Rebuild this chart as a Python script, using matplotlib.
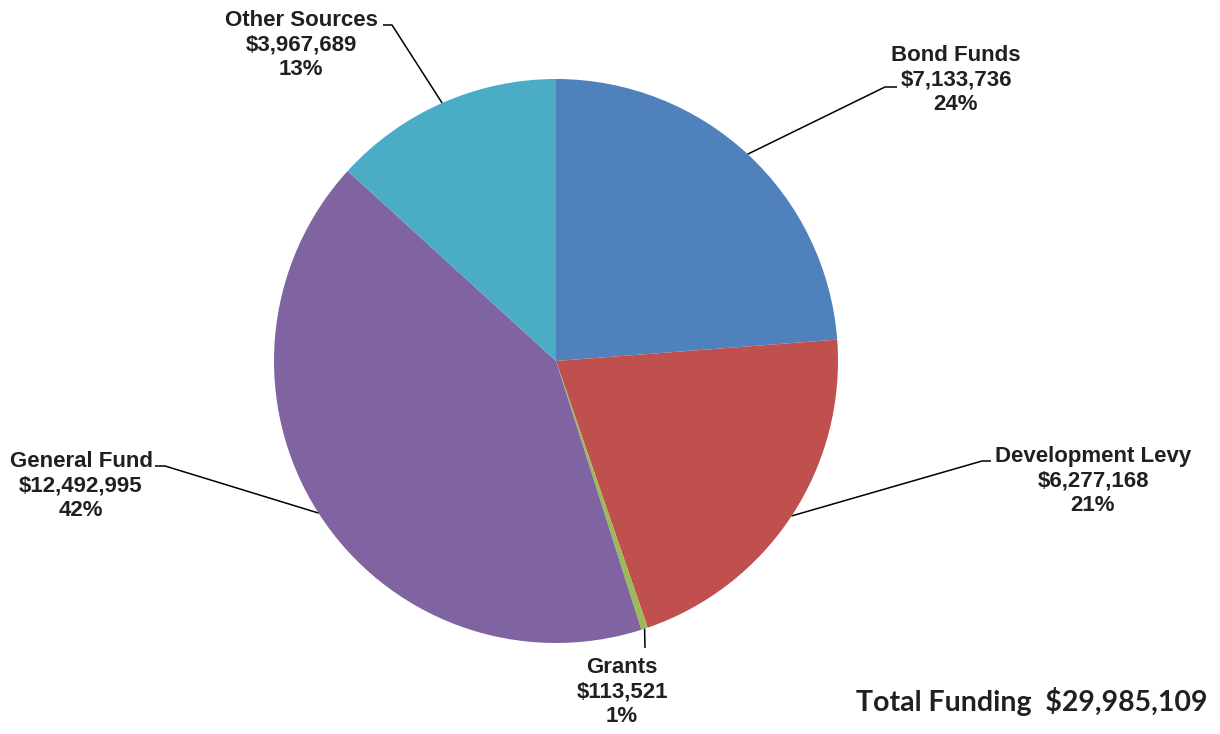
import numpy as np
import matplotlib
matplotlib.use("Agg")
import matplotlib.pyplot as plt

# data
sources = ["Bond Funds", "Development Levy", "Grants", "General Fund", "Other Sources"]
amounts = [7133736, 6277168, 113521, 12492995, 3967689]
amount_labels = ["$7,133,736", "$6,277,168", "$113,521", "$12,492,995", "$3,967,689"]
pct_labels = ["24%", "21%", "1%", "42%", "13%"]
colors = ["#4F81BD", "#C0504D", "#9BBB59", "#8064A2", "#4BACC6"]
total_label = "Total Funding  $29,985,109"

W, H = 1220, 734
CX, CY, R = 556, 361, 282


def px(x, y):
    # pixel position -> data units (pie radius = 1)
    return (x - CX) / R, (CY - y) / R


# label block centre, elbow point, end of the short horizontal tick (pixels)
label_pos = [(956, 80), (1093, 481), (622, 692), (81, 486), (301, 45)]
elbows = [(885, 87), (982, 461), (645, 648), (165, 466), (392, 25)]
ends = [(897, 87), (991, 461), (645, 648), (155, 466), (383, 25)]

fig = plt.figure(figsize=(W / 100, H / 100), dpi=100)
ax = fig.add_axes([0, 0, 1, 1])

wedges, _ = ax.pie(amounts, colors=colors, startangle=90, counterclock=False,
                   radius=1, center=(0, 0), frame=True,
                   wedgeprops=dict(linewidth=0))
ax.set_xlim(px(0, 0)[0], px(W, 0)[0])
ax.set_ylim(px(0, H)[1], px(0, 0)[1])
ax.set_aspect("equal")
ax.axis("off")

txt_color = "#231F20"
for w, name, amt, pct, lp, el, en in zip(wedges, sources, amount_labels, pct_labels,
                                         label_pos, elbows, ends):
    mid = np.deg2rad((w.theta1 + w.theta2) / 2)
    x0, y0 = np.cos(mid), np.sin(mid)
    ex, ey = px(*el)
    nx, ny = px(*en)
    ax.plot([x0, ex, nx], [y0, ey, ny], color="black", lw=1.1, solid_capstyle="butt")
    tx, ty = px(*lp)
    ax.text(tx, ty, f"{name}\n{amt}\n{pct}", ha="center", va="center",
            fontsize=16, fontweight="bold", color=txt_color,
            family=["Liberation Sans", "DejaVu Sans"], linespacing=1.22)

tx, ty = px(1032, 701)
ax.text(tx, ty, total_label, ha="center", va="center", fontsize=20.5,
        fontweight="bold", color=txt_color, family=["Lato", "DejaVu Sans"])

fig.savefig("out.png", dpi=100, facecolor="white")
